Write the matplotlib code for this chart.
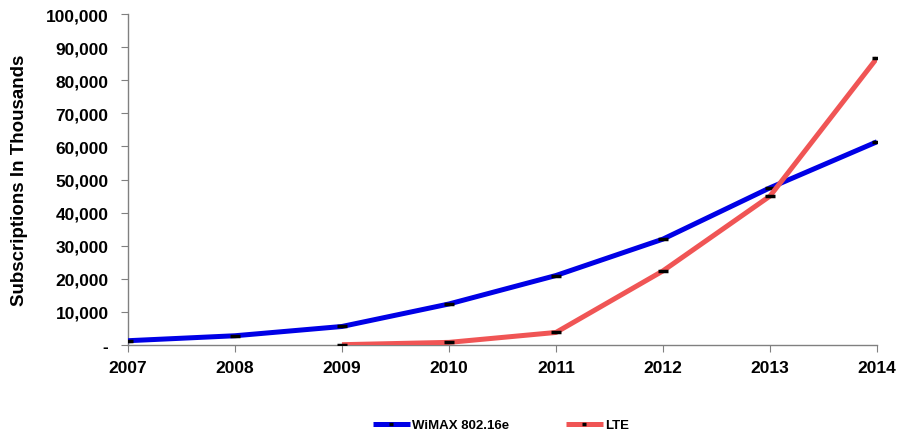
import matplotlib.pyplot as plt
from matplotlib.ticker import FuncFormatter

# ========== DATA ==========
years = [2007, 2008, 2009, 2010, 2011, 2012, 2013, 2014]
wimax = [1300, 2800, 5600, 12400, 21000, 32000, 47500, 61400]
lte_years = [2009, 2010, 2011, 2012, 2013, 2014]
lte = [100, 800, 3800, 22400, 45000, 86700]

# ========== PLOT ==========
plt.rcParams['font.family'] = ['Liberation Sans', 'DejaVu Sans']
plt.rcParams['font.weight'] = 'bold'

fig = plt.figure(figsize=(8.98, 4.39), dpi=100)
ax = fig.add_axes([0.1425, 0.2118, 0.8341, 0.754])

ax.plot(years, wimax, color='#0000e6', lw=3.6, solid_capstyle='butt',
        marker='_', mec='black', ms=7, mew=2.5, label='WiMAX 802.16e', zorder=3)
ax.plot(lte_years, lte, color='#f05555', lw=3.6, solid_capstyle='butt',
        marker='_', mec='black', ms=7, mew=2.5, label='LTE', zorder=4)

ax.set_xlim(2007, 2014)
ax.set_ylim(0, 100000)
ax.set_xticks(years)
ax.set_yticks(range(0, 100001, 10000))
ax.yaxis.set_major_formatter(FuncFormatter(lambda v, p: '-' if v == 0 else f'{int(v):,}'))

for s in ['top', 'right']:
    ax.spines[s].set_visible(False)
for s in ['left', 'bottom']:
    ax.spines[s].set_color('#808080')
    ax.spines[s].set_linewidth(1)
ax.tick_params(axis='both', colors='#808080', labelcolor='black', labelsize=12.5,
               length=5, direction='out')
ax.tick_params(axis='x', pad=6)
ax.tick_params(axis='y', pad=9)

ax.set_ylabel('Subscriptions In Thousands', fontsize=13.5, fontweight='bold', labelpad=13)

leg = fig.legend(loc='lower center', bbox_to_anchor=(0.558, -0.012), ncol=2, frameon=False,
                 fontsize=9.5, handlelength=2.8, handletextpad=0.2, columnspacing=4.3,
                 markerscale=0.5)

fig.savefig('out.png', dpi=100)
